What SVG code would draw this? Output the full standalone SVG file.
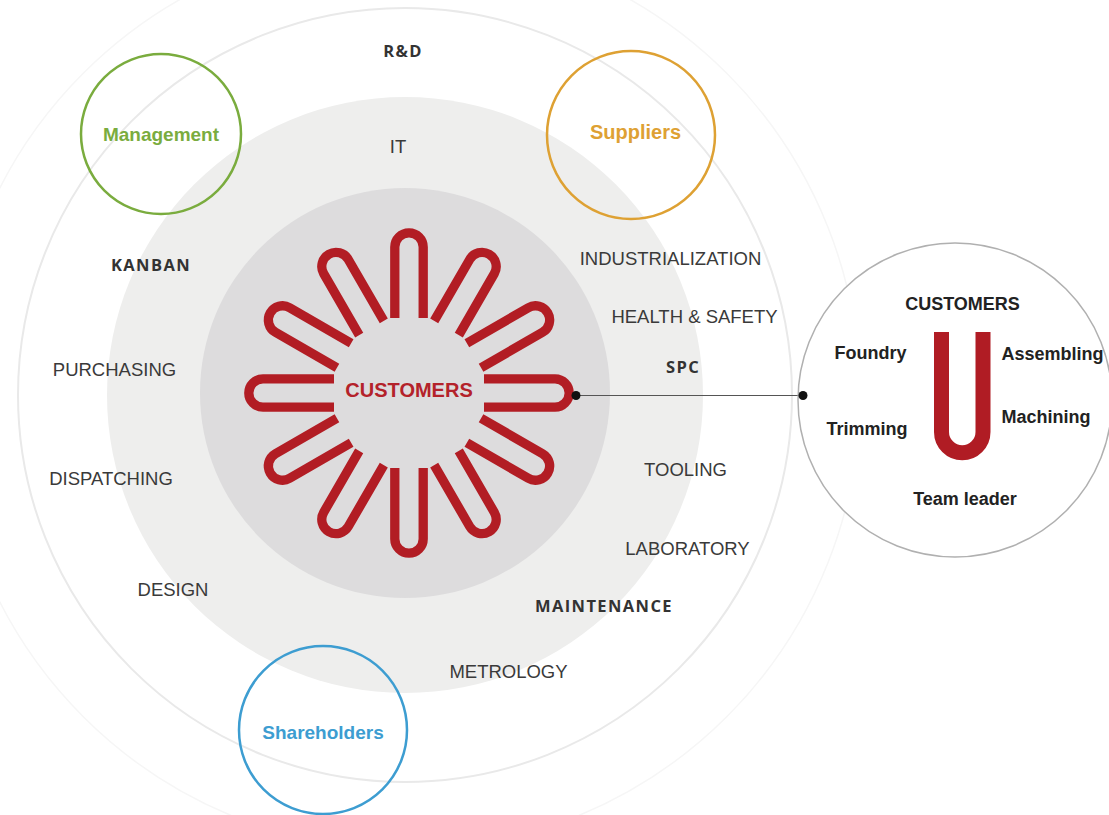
<svg xmlns="http://www.w3.org/2000/svg" width="1109" height="815" viewBox="0 0 1109 815">
<style>
.lbl{font-family:"Liberation Sans",Arial,sans-serif;font-size:18.5px;fill:#3a3a3a;text-anchor:middle}
.semi{font-family:"Open Sans","Liberation Sans",sans-serif;font-weight:700;font-size:16.5px;fill:#333;text-anchor:middle;letter-spacing:1.4px}
.ring{fill:none;stroke-width:2.5}
.ctr{font-family:"Liberation Sans",Arial,sans-serif;font-weight:bold;text-anchor:middle}
.u{font-family:"Liberation Sans",Arial,sans-serif;font-weight:bold;font-size:18px;fill:#222;text-anchor:middle}
.petal{fill:none;stroke:#b21d24;stroke-width:9.3}
</style>
<defs>
<path id="petal" class="petal" d="M-14.2,-75 L-14.2,-146 A14.2,14.2 0 0 1 14.2,-146 L14.2,-75"/>
</defs>
<rect width="1109" height="815" fill="#fff"/>
<g id="rings">
<circle cx="405" cy="395" r="455" fill="none" stroke="#f6f6f6" stroke-width="1.5"/>
<circle cx="405" cy="395" r="298" fill="#eeeeed"/>
<circle cx="405" cy="393" r="205" fill="#dddcdd"/>
<circle cx="405" cy="395" r="387" fill="none" stroke="#e9e9e9" stroke-width="2"/>
</g>
<g id="flower" transform="translate(409,393)">
<use href="#petal" transform="rotate(0)"/>
<use href="#petal" transform="rotate(30)"/>
<use href="#petal" transform="rotate(60)"/>
<use href="#petal" transform="rotate(90)"/>
<use href="#petal" transform="rotate(120)"/>
<use href="#petal" transform="rotate(150)"/>
<use href="#petal" transform="rotate(180)"/>
<use href="#petal" transform="rotate(210)"/>
<use href="#petal" transform="rotate(240)"/>
<use href="#petal" transform="rotate(270)"/>
<use href="#petal" transform="rotate(300)"/>
<use href="#petal" transform="rotate(330)"/>
<text class="ctr" x="0" y="4" font-size="20" fill="#b4222a">CUSTOMERS</text>
</g>
<g id="labels">
<text class="semi" x="403" y="57">R&amp;D</text>
<text class="lbl" x="398" y="153" font-size="21">IT</text>
<text class="semi" x="151" y="271">KANBAN</text>
<text class="lbl" x="114.5" y="376">PURCHASING</text>
<text class="lbl" x="111" y="485">DISPATCHING</text>
<text class="lbl" x="173" y="596">DESIGN</text>
<text class="lbl" x="670.5" y="265">INDUSTRIALIZATION</text>
<text class="lbl" x="694.5" y="323">HEALTH &amp; SAFETY</text>
<text class="semi" x="683" y="373">SPC</text>
<text class="lbl" x="685.5" y="476">TOOLING</text>
<text class="lbl" x="687.5" y="555">LABORATORY</text>
<text class="semi" x="604" y="612">MAINTENANCE</text>
<text class="lbl" x="508.5" y="678">METROLOGY</text>
</g>
<g id="management">
<circle class="ring" cx="161" cy="134" r="80" stroke="#7aac3e"/>
<text class="ctr" x="161" y="141" font-size="19" fill="#7aac3e">Management</text>
</g>
<g id="suppliers">
<circle class="ring" cx="631" cy="135" r="84" stroke="#dea133"/>
<text class="ctr" x="635.5" y="139" font-size="20" fill="#dea133">Suppliers</text>
</g>
<g id="shareholders">
<circle class="ring" cx="323" cy="730" r="84" stroke="#3d9dd1"/>
<text class="ctr" x="323" y="739" font-size="19" fill="#3d9dd1">Shareholders</text>
</g>
<g id="connectors">
<line x1="576" y1="395.5" x2="803" y2="395.5" stroke="#555" stroke-width="1.2"/>
</g>
<g id="cell">
<circle cx="955" cy="400" r="157" fill="#fff" stroke="#b0b0b0" stroke-width="1.5"/>
<path d="M941.5,332 V432 A20.75,20.75 0 0 0 983,432 V332" fill="none" stroke="#b01c24" stroke-width="15"/>
<text class="u" x="962.5" y="310">CUSTOMERS</text>
<text class="u" x="870.5" y="359">Foundry</text>
<text class="u" x="1052.5" y="360">Assembling</text>
<text class="u" x="1046" y="423">Machining</text>
<text class="u" x="867" y="435">Trimming</text>
<text class="u" x="965" y="505">Team leader</text>
</g>
<g id="dots">
<circle cx="576" cy="395.5" r="4.5" fill="#111"/>
<circle cx="803" cy="395.5" r="4.5" fill="#111"/>
</g>
</svg>
